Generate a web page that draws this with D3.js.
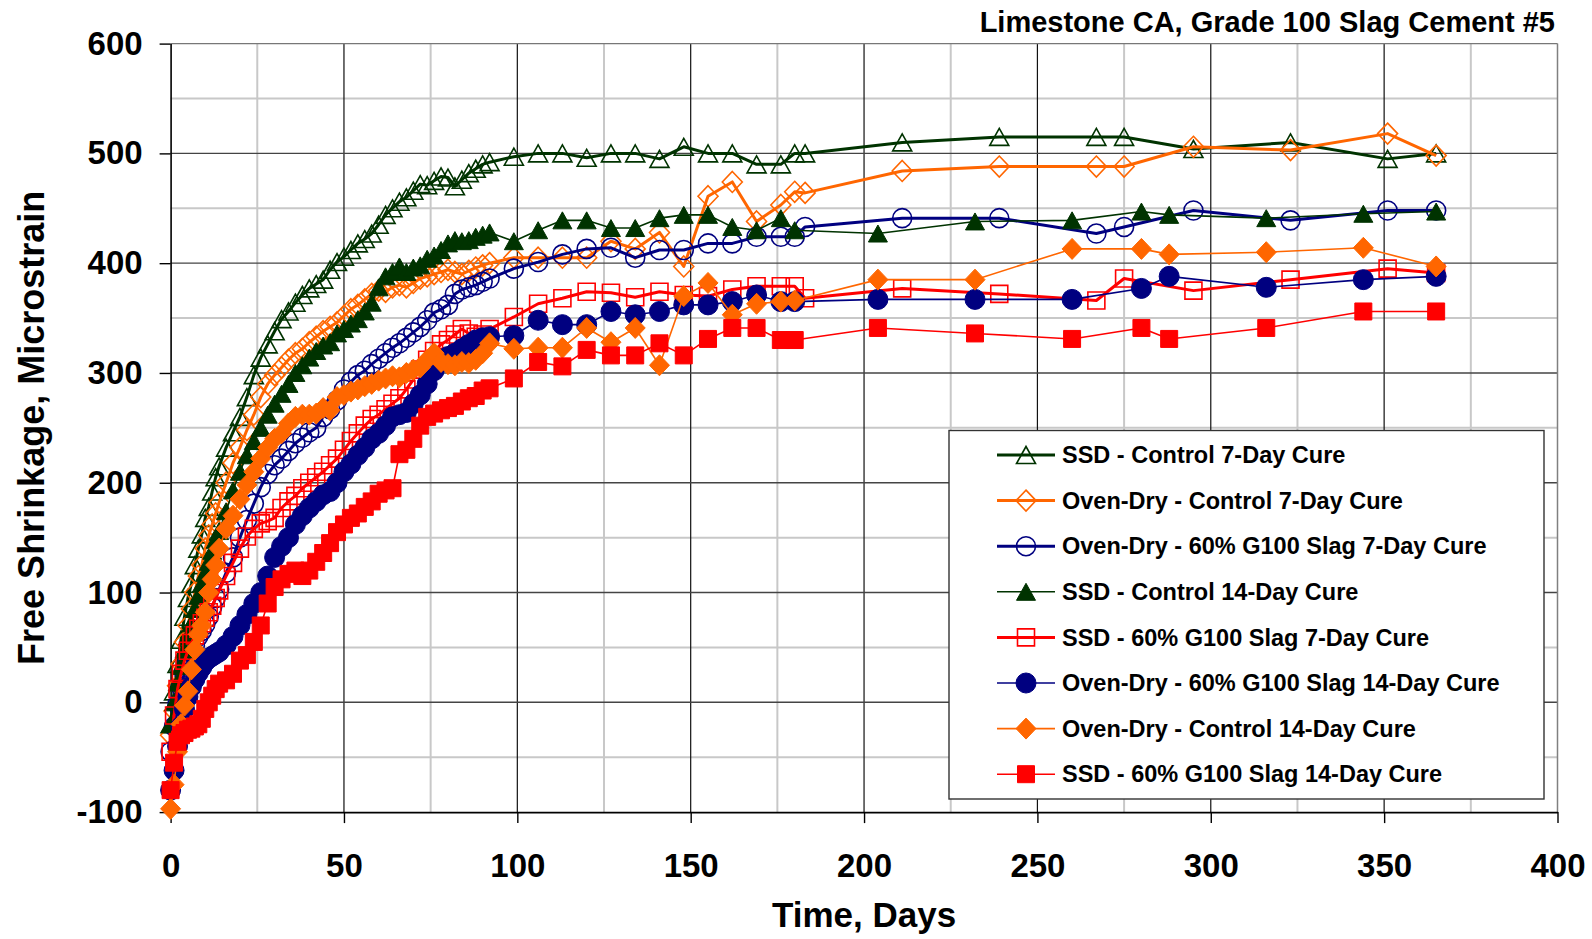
<!DOCTYPE html>
<html>
<head>
<meta charset="utf-8">
<script src="https://d3js.org/d3.v7.min.js"></script>
<style>
body { margin: 0; background: #fff; }
svg text { font-family: "Liberation Sans", Arial, sans-serif; font-weight: bold; fill: #000; }
</style>
</head>
<body>
<svg id="chart" width="1592" height="939"></svg>
<script>
// drying days: daily for two weeks, then every other day
var earlyDays = [0,1,2,3,4,5,6,7,8,9,10,11,12,13,14,
  16,18,20,22,24,26,28,30,32,34,36,38,40,42,44,46,48,50,52,54,56,58,60,62,64,66,68,70,72,74,76,78,80,82,84,86,88,90,92];
// later readings (7-day cure and 14-day cure sets were read on different days)
var lateDays7 = [99,106,113,120,127,134,141,148,155,162,169,176,180,183,211,239,267,275,295,323,351,365];
var lateDays14 = [99,106,113,120,127,134,141,148,155,162,169,176,180,204,232,260,280,288,316,344,365];

var ssdControl7 = [-20,10,35,57,78,95,108,125,140,153,168,178,192,205,215,
  232,246,260,278,298,314,326,338,349,356,364,371,377,381,385,394,401,406,412,418,422,427,435,444,450,456,460,466,472,471,475,479,478,470,476,482,486,490,492,
  497,500,500,496,500,500,495,506,500,500,490,490,500,500,510,515,515,515,504,510,495,500];
var ovenControl7 = [-30,-8,15,35,55,70,85,100,115,125,140,152,162,172,182,
  200,218,232,248,262,278,290,298,305,312,318,322,328,333,338,342,346,352,358,362,367,372,375,374,378,380,378,382,386,388,390,392,394,392,390,393,396,398,400,
  405,405,405,405,420,413,428,397,461,474,438,453,465,464,484,488,488,488,506,503,518,498];
var ovenSlag7 = [-45,-22,-2,14,27,37,45,52,60,65,71,78,87,95,103,
  118,132,150,166,181,196,208,216,222,229,236,241,246,250,260,267,275,285,292,298,302,308,313,318,323,327,332,337,342,348,355,358,362,372,376,378,380,383,386,
  395,401,408,413,414,405,412,412,418,418,424,424,424,433,441,441,427,433,448,439,448,448];
var ssdControl14 = [-20,0,18,33,48,60,72,85,97,108,118,128,138,148,156,
  174,193,210,225,238,250,262,272,281,290,300,307,314,320,325,328,336,340,345,349,356,364,378,388,392,397,392,396,398,404,407,412,418,421,420,421,424,426,428,
  420,430,439,439,432,432,441,444,444,433,430,441,430,427,438,439,447,444,441,445,447];
var ssdSlag7 = [-45,-12,12,26,38,47,54,61,67,72,77,82,88,95,102,
  115,127,140,151,158,163,165,168,177,183,188,195,200,205,210,216,222,230,238,245,252,258,262,267,272,277,285,294,303,312,320,326,330,335,340,336,333,335,340,
  351,363,368,374,373,369,374,371,370,376,379,379,379,368,377,372,366,386,375,385,395,391];
var ovenSlag14 = [-80,-62,-40,-22,-6,5,14,21,27,32,37,40,42,44,46,
  52,60,70,80,90,100,115,132,142,150,162,170,177,183,189,192,200,210,217,225,232,240,245,252,260,262,264,272,280,290,302,310,315,318,322,326,330,332,333,
  334,348,344,344,356,353,356,362,362,365,371,365,365,367,367,367,377,388,378,385,388];
var ovenControl14 = [-97,-75,-45,-20,-3,10,30,48,62,70,82,100,112,125,140,
  158,170,185,198,210,222,232,240,245,254,260,262,262,263,268,266,278,280,283,285,288,290,293,295,297,296,300,303,305,312,318,310,308,307,310,309,312,318,327,
  322,323,323,341,328,341,307,370,382,353,363,365,366,385,385,413,413,408,410,414,397];
var ssdSlag14 = [-80,-55,-36,-30,-28,-25,-24,-22,-20,-15,-6,0,6,12,17,
  20,26,38,43,55,70,90,105,112,117,120,115,120,128,136,145,155,162,168,172,178,183,190,193,195,226,230,240,252,260,263,266,268,270,274,277,279,284,286,
  295,310,306,321,316,316,327,316,331,341,341,330,330,341,336,331,341,331,341,356,356];

var seriesNames = ["SSD - Control 7-Day Cure", "Oven-Dry - Control 7-Day Cure", "Oven-Dry - 60% G100 Slag 7-Day Cure",
  "SSD - Control 14-Day Cure", "SSD - 60% G100 Slag 7-Day Cure", "Oven-Dry - 60% G100 Slag 14-Day Cure",
  "Oven-Dry - Control 14-Day Cure", "SSD - 60% G100 Slag 14-Day Cure"];
var seriesValues = [ssdControl7, ovenControl7, ovenSlag7, ssdControl14, ssdSlag7, ovenSlag14, ovenControl14, ssdSlag14];
var seriesCure = [7, 7, 7, 14, 7, 14, 14, 14];
var xTicks = [0,50,100,150,200,250,300,350,400];
var yTicks = [-100,0,100,200,300,400,500,600];

var green = "#003300", orange = "#ff6600", navy = "#000080", red = "#ff0000";
var styles = [
  {color: green, shape: "triangle", filled: false, width: 3},
  {color: orange, shape: "diamond", filled: false, width: 3},
  {color: navy, shape: "circle", filled: false, width: 3},
  {color: green, shape: "triangle", filled: true, width: 1.6},
  {color: red, shape: "square", filled: false, width: 3},
  {color: navy, shape: "circle", filled: true, width: 1.6},
  {color: orange, shape: "diamond", filled: true, width: 1.6},
  {color: red, shape: "square", filled: true, width: 1.6}
];

var series = seriesNames.map(function(name, i){
  var days = earlyDays.concat(seriesCure[i] == 7 ? lateDays7 : lateDays14);
  return {
    name: name,
    style: styles[i],
    points: seriesValues[i].map(function(v, j){ return {day: days[j], value: v}; })
  };
});

var svg = d3.select("#chart");

var x = d3.scaleLinear().domain([0, 400]).range([170.6, 1557.5]);
var y = d3.scaleLinear().domain([-100, 600]).range([812.1, 43.6]);

// plot background
svg.append("rect")
  .attr("x", x(0)).attr("y", y(600))
  .attr("width", x(400) - x(0)).attr("height", y(-100) - y(600))
  .attr("fill", "#fff");

//minor grid
var grid = svg.append("g");
grid.selectAll(".vminor")
  .data(d3.range(25, 400, 50))
  .enter().append("line")
  .attr("x1", d => x(d)).attr("x2", d => x(d))
  .attr("y1", y(600)).attr("y2", y(-100))
  .attr("stroke", "#c8c8c8").attr("stroke-width", 2);
grid.selectAll(".hminor")
  .data(d3.range(-50, 600, 100))
  .enter().append("line")
  .attr("x1", x(0)).attr("x2", x(400))
  .attr("y1", d => y(d)).attr("y2", d => y(d))
  .attr("stroke", "#c8c8c8").attr("stroke-width", 2);

//major grid
grid.selectAll(".vmajor")
  .data(xTicks.slice(1, -1))
  .enter().append("line")
  .attr("x1", d => x(d)).attr("x2", d => x(d))
  .attr("y1", y(600)).attr("y2", y(-100))
  .attr("stroke", "#111").attr("stroke-width", 1.2);
grid.selectAll(".hmajor")
  .data(yTicks.slice(1))
  .enter().append("line")
  .attr("x1", x(0)).attr("x2", x(400))
  .attr("y1", d => y(d)).attr("y2", d => y(d))
  .attr("stroke", d => d == 600 ? "#777" : "#444").attr("stroke-width", 1.4);
grid.append("line")
  .attr("x1", x(400)).attr("x2", x(400))
  .attr("y1", y(600)).attr("y2", y(-100))
  .attr("stroke", "#808080").attr("stroke-width", 1.5);

//axes (plain hyphen for negatives, like the original)
var axisY = d3.axisLeft(y).tickValues(yTicks).tickFormat(d => String(d))
  .tickSize(11).tickSizeOuter(0).tickPadding(17);
var gy = svg.append("g")
  .attr("transform", "translate(" + x(0) + ",0)")
  .call(axisY);
var axisX = d3.axisBottom(x).tickValues(xTicks).tickFormat(d => String(d))
  .tickSize(11).tickSizeOuter(0).tickPadding(30);
var gx = svg.append("g")
  .attr("transform", "translate(0," + y(-100) + ")")
  .call(axisX);
[gx, gy].forEach(function(g){
  g.select(".domain").attr("stroke", "#000").attr("stroke-width", 1.6);
  g.selectAll(".tick line").attr("stroke", "#000").attr("stroke-width", 1.4);
  g.selectAll(".tick text")
    .style("font-family", '"Liberation Sans", Arial, sans-serif')
    .style("font-weight", "bold")
    .style("font-size", "33px")
    .attr("fill", "#000");
});

// marker shapes
function markerPath(shape){
  if(shape == "triangle") return "M0,-8.5L9.5,8.5L-9.5,8.5Z";
  if(shape == "diamond") return "M0,-10.5L10,0L0,10.5L-10,0Z";
  if(shape == "square") return "M-8.5,-8.5H8.5V8.5H-8.5Z";
  return null;
}
function drawMarker(g, st, px, py){
  var m;
  if(st.shape == "circle"){
    m = g.append("circle").attr("cx", px).attr("cy", py).attr("r", st.filled ? 10 : 9.5);
  } else {
    m = g.append("path").attr("d", markerPath(st.shape))
      .attr("transform", "translate(" + px + "," + py + ")");
  }
  m.attr("fill", st.filled ? st.color : "none")
    .attr("stroke", st.color)
    .attr("stroke-width", st.filled ? 1 : 1.6);
}

var line = d3.line()
  .x(d => x(d.day))
  .y(d => y(d.value));

var plot = svg.append("g");
series.forEach(function(s){
  var g = plot.append("g");
  g.append("path")
    .datum(s.points)
    .attr("d", line)
    .attr("fill", "none")
    .attr("stroke", s.style.color)
    .attr("stroke-width", s.style.width)
    .attr("stroke-linejoin", "round");
  s.points.forEach(function(p){
    drawMarker(g, s.style, x(p.day), y(p.value));
  });
});

//legend
var legend = svg.append("g");
legend.append("rect")
  .attr("x", 949).attr("y", 430.5)
  .attr("width", 595).attr("height", 368.5)
  .attr("fill", "#fff")
  .attr("stroke", "#333").attr("stroke-width", 1.4);
series.forEach(function(s, i){
  var ly = 455 + i * 45.6;
  legend.append("line")
    .attr("x1", 997).attr("x2", 1055)
    .attr("y1", ly).attr("y2", ly)
    .attr("stroke", s.style.color)
    .attr("stroke-width", s.style.width);
  drawMarker(legend, s.style, 1026, ly);
  legend.append("text")
    .attr("x", 1062).attr("y", ly)
    .attr("dy", "0.35em")
    .style("font-size", "23.5px")
    .text(s.name);
});

//titles
svg.append("text")
  .attr("x", 1555).attr("y", 31.5)
  .attr("text-anchor", "end")
  .style("font-size", "29px")
  .text("Limestone CA, Grade 100 Slag Cement #5");

svg.append("text")
  .attr("x", x(200)).attr("y", 927)
  .attr("text-anchor", "middle")
  .style("font-size", "35px")
  .text("Time, Days");

svg.append("text")
  .attr("transform", "translate(44," + ((y(600) + y(-100)) / 2) + ") rotate(-90)")
  .attr("text-anchor", "middle")
  .style("font-size", "36px")
  .text("Free Shrinkage, Microstrain");
</script>
</body>
</html>
